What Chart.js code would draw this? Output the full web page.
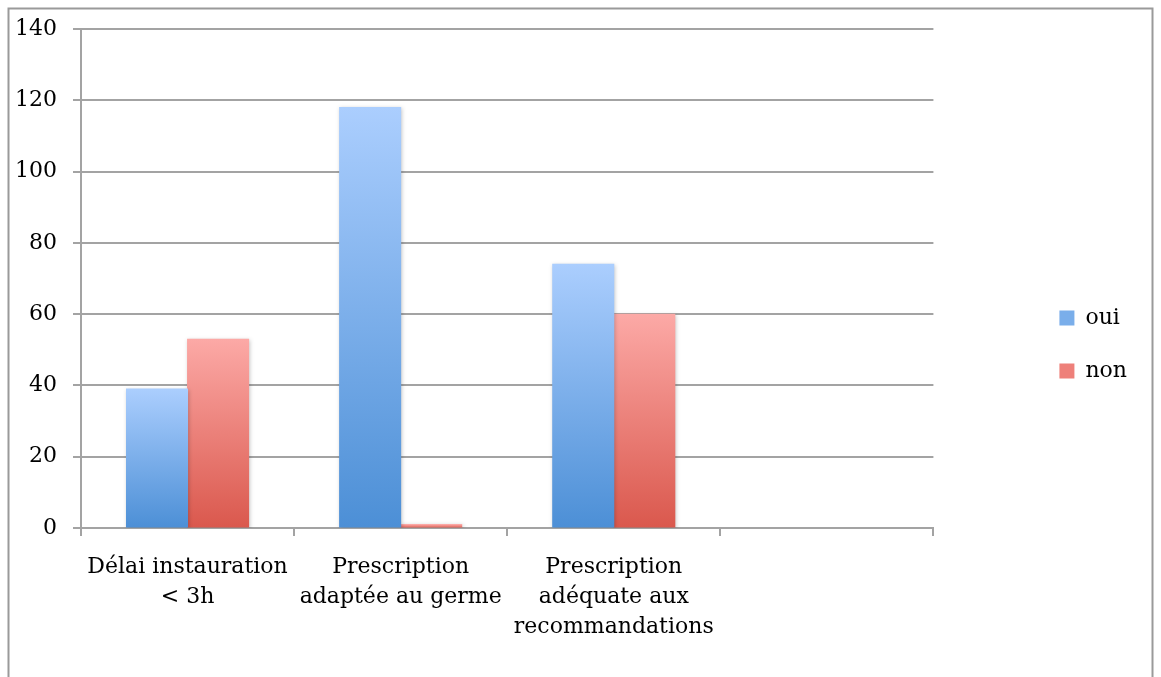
<!DOCTYPE html>
<html lang="fr">
<head>
<meta charset="utf-8">
<title>Antibiothérapie : oui / non</title>
<script src="https://cdn.jsdelivr.net/npm/chart.js@4/dist/chart.umd.min.js"></script>
<style>
  html, body { margin: 0; padding: 0; background: #ffffff; }
  #wrap { position: relative; width: 1161px; height: 677px; }
  canvas { display: block; }
</style>
</head>
<body>
<div id="wrap"><canvas id="chart" width="1161" height="677"></canvas></div>
<script>
// Categories (multi-line axis labels); the fourth slot is left empty
const categories = [
  ['Délai instauration', '< 3h'],
  ['Prescription', 'adaptée au germe'],
  ['Prescription', 'adéquate aux', 'recommandations'],
  ''
];
const seriesNames = ['oui', 'non'];
const ouiValues = [39, 118, 74, null];
const nonValues = [53, 1, 60, null];
const yTicks = [0, 20, 40, 60, 80, 100, 120, 140];

const FONT = { family: '"DejaVu Serif", serif', size: 22 };
const GRID = '#a3a3a3';

// top / bottom colours of each series' vertical gradient
const shades = {
  oui: ['#abcefe', '#4c8fd6'],
  non: ['#fca9a6', '#da584d']
};
const legendFill = { oui: '#7aaeea', non: '#ee807a' };

function barGradient(name) {
  return function (ctx) {
    const chart = ctx.chart;
    if (ctx.type !== 'data' || !chart.chartArea || ctx.raw == null) return legendFill[name];
    const y = chart.scales.y;
    const top = y.getPixelForValue(ctx.raw);
    const base = y.getPixelForValue(0);
    const g = chart.ctx.createLinearGradient(0, top, 0, base === top ? top + 1 : base);
    g.addColorStop(0, shades[name][0]);
    g.addColorStop(1, shades[name][1]);
    return g;
  };
}

// soft drop shadow under the bars
const barShadow = {
  id: 'barShadow',
  beforeDatasetsDraw(chart) {
    const c = chart.ctx;
    c.save();
    c.shadowColor = 'rgba(0,0,0,0.22)';
    c.shadowBlur = 4;
    c.shadowOffsetX = 1;
    c.shadowOffsetY = 1;
  },
  afterDatasetsDraw(chart) {
    chart.ctx.restore();
  }
};

// thin grey frame around the whole figure
const frame = {
  id: 'frame',
  beforeDraw(chart) {
    const c = chart.ctx;
    c.save();
    c.fillStyle = '#ffffff';
    c.fillRect(0, 0, chart.width, chart.height);
    c.strokeStyle = '#9a9a9a';
    c.lineWidth = 2;
    c.strokeRect(8.5, 8.5, chart.width - 17, chart.height + 20);
    c.restore();
  }
};

new Chart(document.getElementById('chart'), {
  type: 'bar',
  data: {
    labels: categories,
    datasets: [
      { label: seriesNames[0], data: ouiValues, backgroundColor: barGradient('oui'), borderWidth: 0, inflateAmount: 0.5 },
      { label: seriesNames[1], data: nonValues, backgroundColor: barGradient('non'), borderWidth: 0, inflateAmount: 0.5 }
    ]
  },
  plugins: [frame, barShadow],
  options: {
    responsive: false,
    animation: false,
    devicePixelRatio: 1,
    layout: { padding: { left: 9, top: 24, right: 24, bottom: 12 } },
    datasets: {
      bar: { categoryPercentage: 0.573, barPercentage: 1.0 }
    },
    scales: {
      x: {
        offset: true,
        grid: {
          offset: true,
          drawOnChartArea: false,
          drawTicks: true,
          tickLength: 8,
          color: GRID,
          lineWidth: 2
        },
        border: { display: true, color: GRID, width: 2 },
        ticks: {
          color: '#000000',
          font: { ...FONT, lineHeight: 1.36 },
          padding: 16,
          maxRotation: 0,
          autoSkip: false
        },
        afterFit(s) { s.height = 137; }
      },
      y: {
        min: 0,
        max: 140,
        afterBuildTicks(s) { s.ticks = yTicks.map(v => ({ value: v })); },
        grid: {
          color: GRID,
          lineWidth: 2,
          tickLength: 8,
          drawTicks: true
        },
        border: { display: true, color: GRID, width: 2 },
        ticks: {
          color: '#000000',
          font: FONT,
          padding: 16
        },
        afterFit(s) { s.width = 72; }
      },
      gap: {
        type: 'linear',
        axis: 'y',
        position: 'right',
        display: true,
        grid: { display: false },
        border: { display: false },
        ticks: { display: false },
        afterFit(s) { s.width = 95; }
      }
    },
    plugins: {
      legend: {
        position: 'right',
        align: 'center',
        labels: {
          color: '#000000',
          font: FONT,
          boxWidth: 15,
          boxHeight: 15,
          padding: 31,
          generateLabels(chart) {
            return chart.data.datasets.map((ds, i) => ({
              text: ds.label,
              fillStyle: legendFill[ds.label],
              strokeStyle: 'rgba(0,0,0,0)',
              lineWidth: 0,
              hidden: !chart.isDatasetVisible(i),
              datasetIndex: i
            }));
          }
        }
      },
      tooltip: { enabled: false },
      title: { display: false }
    }
  }
});
</script>
</body>
</html>
